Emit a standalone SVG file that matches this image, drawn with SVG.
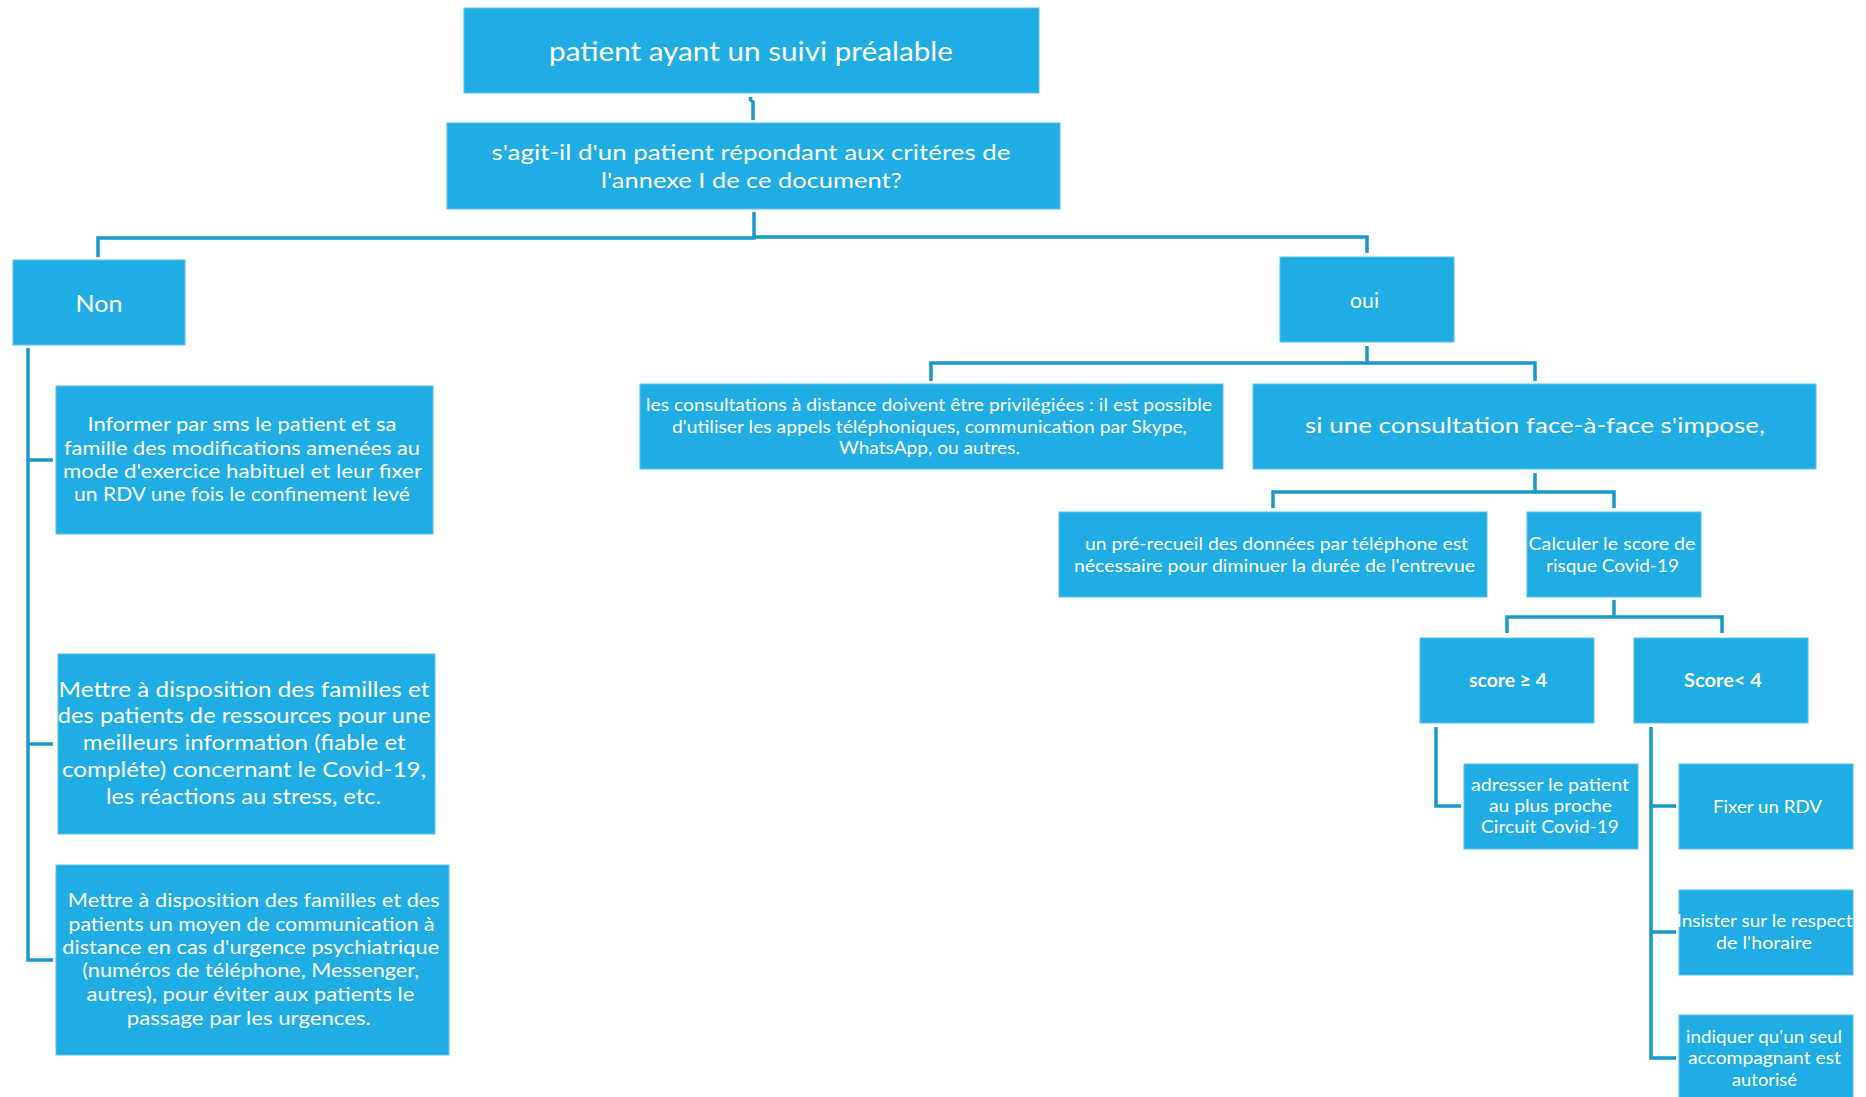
<svg xmlns="http://www.w3.org/2000/svg" width="1866" height="1097" viewBox="0 0 1866 1097">
<style>
.bg{fill:#ffffff}
.box{fill:#1fade3;stroke:#5cc2ec;stroke-width:1}
.t{font-family:Lato,"Liberation Sans",sans-serif;fill:#ffffff;text-anchor:middle}
.b{font-weight:bold}
.c{fill:none;stroke:#1a98c9;stroke-width:3.5;stroke-linejoin:miter;stroke-linecap:butt}
</style>
<rect class="bg" x="0" y="0" width="1866" height="1097"/>
<g id="connectors">
<path class="c" d="M750.5,97 V100 L753,102 V120"/>
<path class="c" d="M98,257 V238 H754 V212"/>
<path class="c" d="M754,237 H1367 V253"/>
<path class="c" d="M1367,346 V363"/>
<path class="c" d="M931,381 V363 H1535 V381"/>
<path class="c" d="M1535,473 V492"/>
<path class="c" d="M1273,508 V492 H1614 V508"/>
<path class="c" d="M1614,600 V617"/>
<path class="c" d="M1507,633 V617 H1722 V633"/>
<path class="c" d="M1436,727 V806 H1461"/>
<path class="c" d="M1651,727 V1058 H1676"/>
<path class="c" d="M1651,806 H1676"/>
<path class="c" d="M1651,932 H1676"/>
<path class="c" d="M28,348 V960 H53"/>
<path class="c" d="M28,460 H53"/>
<path class="c" d="M28,744 H53"/>
</g>
<g id="n-title">
<rect class="box" x="464" y="8" width="575" height="85"/>
<text class="t" x="751" y="61" font-size="26" textLength="404" lengthAdjust="spacingAndGlyphs">patient ayant un suivi préalable</text>
</g>
<g id="n-question">
<rect class="box" x="447" y="123" width="613" height="86"/>
<text class="t" x="751" y="160" font-size="22" textLength="519" lengthAdjust="spacingAndGlyphs">s'agit-il d'un patient répondant aux critéres de</text>
<text class="t" x="751.5" y="188" font-size="22" textLength="301" lengthAdjust="spacingAndGlyphs">l'annexe I de ce document?</text>
</g>
<g id="n-non">
<rect class="box" x="13" y="260" width="172" height="85"/>
<text class="t" x="99" y="312" font-size="24" textLength="47" lengthAdjust="spacingAndGlyphs">Non</text>
</g>
<g id="n-oui">
<rect class="box" x="1280" y="257" width="174" height="85"/>
<text class="t" x="1364.5" y="308" font-size="21" textLength="29" lengthAdjust="spacingAndGlyphs">oui</text>
</g>
<g id="n-distance">
<rect class="box" x="640" y="384" width="583" height="85"/>
<text class="t" x="929" y="411" font-size="17" textLength="566" lengthAdjust="spacingAndGlyphs">les consultations à distance doivent être privilégiées : il est possible</text>
<text class="t" x="929.5" y="433" font-size="17" textLength="515" lengthAdjust="spacingAndGlyphs">d'utiliser les appels téléphoniques, communication par Skype,</text>
<text class="t" x="929.5" y="454" font-size="17" textLength="181" lengthAdjust="spacingAndGlyphs">WhatsApp, ou autres.</text>
</g>
<g id="n-face">
<rect class="box" x="1253" y="384" width="563" height="85"/>
<text class="t" x="1535" y="433" font-size="22" textLength="460" lengthAdjust="spacingAndGlyphs">si une consultation face-à-face s'impose,</text>
</g>
<g id="n-prerecueil">
<rect class="box" x="1059" y="512" width="428" height="85"/>
<text class="t" x="1276.5" y="550" font-size="17" textLength="383" lengthAdjust="spacingAndGlyphs">un pré-recueil des données par téléphone est</text>
<text class="t" x="1274.5" y="572" font-size="17" textLength="401" lengthAdjust="spacingAndGlyphs">nécessaire pour diminuer la durée de l'entrevue</text>
</g>
<g id="n-calculer">
<rect class="box" x="1527" y="512" width="174" height="85"/>
<text class="t" x="1612" y="550" font-size="17.5" textLength="167" lengthAdjust="spacingAndGlyphs">Calculer le score de</text>
<text class="t" x="1612.5" y="572" font-size="17.5" textLength="133" lengthAdjust="spacingAndGlyphs">risque Covid-19</text>
</g>
<g id="n-score-ge">
<rect class="box" x="1420" y="638" width="174" height="85"/>
<text class="t b" x="1508" y="687" font-size="19" textLength="78" lengthAdjust="spacingAndGlyphs">score ≥ 4</text>
</g>
<g id="n-score-lt">
<rect class="box" x="1634" y="638" width="174" height="85"/>
<text class="t b" x="1723" y="687" font-size="19" textLength="78" lengthAdjust="spacingAndGlyphs">Score&lt; 4</text>
</g>
<g id="n-adresser">
<rect class="box" x="1464" y="764" width="174" height="85"/>
<text class="t" x="1550" y="791" font-size="17.5" textLength="158" lengthAdjust="spacingAndGlyphs">adresser le patient</text>
<text class="t" x="1550.5" y="812" font-size="17.5" textLength="123" lengthAdjust="spacingAndGlyphs">au plus proche</text>
<text class="t" x="1550" y="833" font-size="17.5" textLength="138" lengthAdjust="spacingAndGlyphs">Circuit Covid-19</text>
</g>
<g id="n-fixer">
<rect class="box" x="1679" y="764" width="174" height="85"/>
<text class="t" x="1767.5" y="813" font-size="18" textLength="109" lengthAdjust="spacingAndGlyphs">Fixer un RDV</text>
</g>
<g id="n-insister">
<rect class="box" x="1679" y="890" width="174" height="85"/>
<text class="t" x="1764.5" y="927" font-size="17.5" textLength="176" lengthAdjust="spacingAndGlyphs">Insister sur le respect</text>
<text class="t" x="1764" y="949" font-size="17.5" textLength="96" lengthAdjust="spacingAndGlyphs">de l'horaire</text>
</g>
<g id="n-indiquer">
<rect class="box" x="1679" y="1015" width="174" height="90"/>
<text class="t" x="1764" y="1043" font-size="17.5" textLength="156" lengthAdjust="spacingAndGlyphs">indiquer qu'un seul</text>
<text class="t" x="1764.5" y="1064" font-size="17.5" textLength="153" lengthAdjust="spacingAndGlyphs">accompagnant est</text>
<text class="t" x="1764.5" y="1086" font-size="17.5" textLength="65" lengthAdjust="spacingAndGlyphs">autorisé</text>
</g>
<g id="n-informer">
<rect class="box" x="56" y="386" width="377" height="148"/>
<text class="t" x="242" y="430.5" font-size="19" textLength="309" lengthAdjust="spacingAndGlyphs">Informer par sms le patient et sa</text>
<text class="t" x="242" y="454.5" font-size="19" textLength="356" lengthAdjust="spacingAndGlyphs">famille des modifications amenées au</text>
<text class="t" x="242.5" y="478" font-size="19" textLength="359" lengthAdjust="spacingAndGlyphs">mode d'exercice habituel et leur fixer</text>
<text class="t" x="242" y="501" font-size="19" textLength="336" lengthAdjust="spacingAndGlyphs">un RDV une fois le confinement levé</text>
</g>
<g id="n-ressources">
<rect class="box" x="58" y="654" width="377" height="180"/>
<text class="t" x="244" y="697" font-size="21" textLength="371" lengthAdjust="spacingAndGlyphs">Mettre à disposition des familles et</text>
<text class="t" x="244.3" y="723" font-size="21" textLength="373" lengthAdjust="spacingAndGlyphs">des patients de ressources pour une</text>
<text class="t" x="244.3" y="750" font-size="21" textLength="323" lengthAdjust="spacingAndGlyphs">meilleurs information (fiable et</text>
<text class="t" x="244" y="777" font-size="21" textLength="364" lengthAdjust="spacingAndGlyphs">compléte) concernant le Covid-19,</text>
<text class="t" x="243.5" y="804" font-size="21" textLength="275" lengthAdjust="spacingAndGlyphs">les réactions au stress, etc.</text>
</g>
<g id="n-communication">
<rect class="box" x="56" y="865" width="393" height="190"/>
<text class="t" x="253.8" y="907" font-size="19" textLength="372" lengthAdjust="spacingAndGlyphs">Mettre à disposition des familles et des</text>
<text class="t" x="251.5" y="930.5" font-size="19" textLength="366" lengthAdjust="spacingAndGlyphs">patients un moyen de communication à</text>
<text class="t" x="250.7" y="954" font-size="19" textLength="377" lengthAdjust="spacingAndGlyphs">distance en cas d'urgence psychiatrique</text>
<text class="t" x="250.7" y="977" font-size="19" textLength="337" lengthAdjust="spacingAndGlyphs">(numéros de téléphone, Messenger,</text>
<text class="t" x="250.5" y="1000.5" font-size="19" textLength="328" lengthAdjust="spacingAndGlyphs">autres), pour éviter aux patients le</text>
<text class="t" x="248.8" y="1025" font-size="19" textLength="244" lengthAdjust="spacingAndGlyphs">passage par les urgences.</text>
</g>
</svg>
